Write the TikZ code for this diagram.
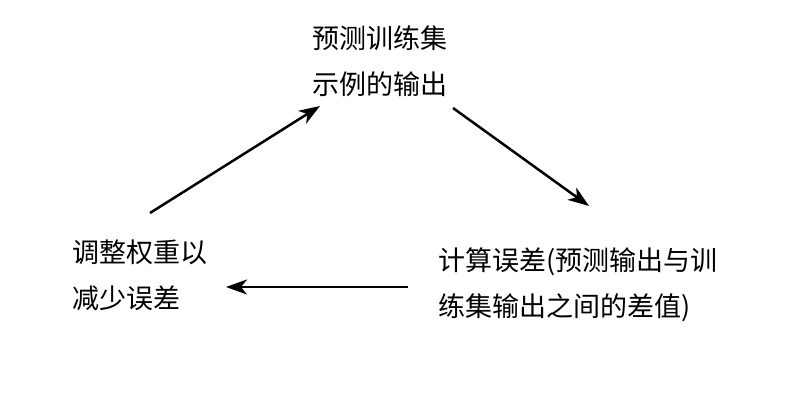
\documentclass[tikz,border=0pt]{standalone}
\usepackage{fontspec}
\setmainfont{Noto Sans CJK SC}
\usetikzlibrary{arrows.meta}

\begin{document}
\begin{tikzpicture}[x=1pt,y=-1pt,>={Stealth[length=21pt,width=15pt,inset=6pt]},
  step text/.style={align=left,anchor=west,inner sep=0pt,font=\fontsize{27}{46}\selectfont},
  cycle/.style={->,line width=2.5pt}]
\useasboundingbox (0,0) rectangle (800,400);
\node[step text] (predict) at (312,61) {预测训练集\\示例的输出};
\node[step text] (error) at (438,285) {计算误差(预测输出与训\\练集输出之间的差值)};
\node[step text] (adjust) at (72,275) {调整权重以\\减少误差};
\coordinate (adjust out) at (150,213);
\coordinate (predict in) at (320,106);
\coordinate (predict out) at (453,108);
\coordinate (error in) at (589,206);
\coordinate (error out) at (408,287);
\coordinate (adjust in) at (226,287);
\draw[cycle] (adjust out) -- (predict in);
\draw[cycle] (predict out) -- (error in);
\draw[cycle] (error out) -- (adjust in);
\end{tikzpicture}
\end{document}
